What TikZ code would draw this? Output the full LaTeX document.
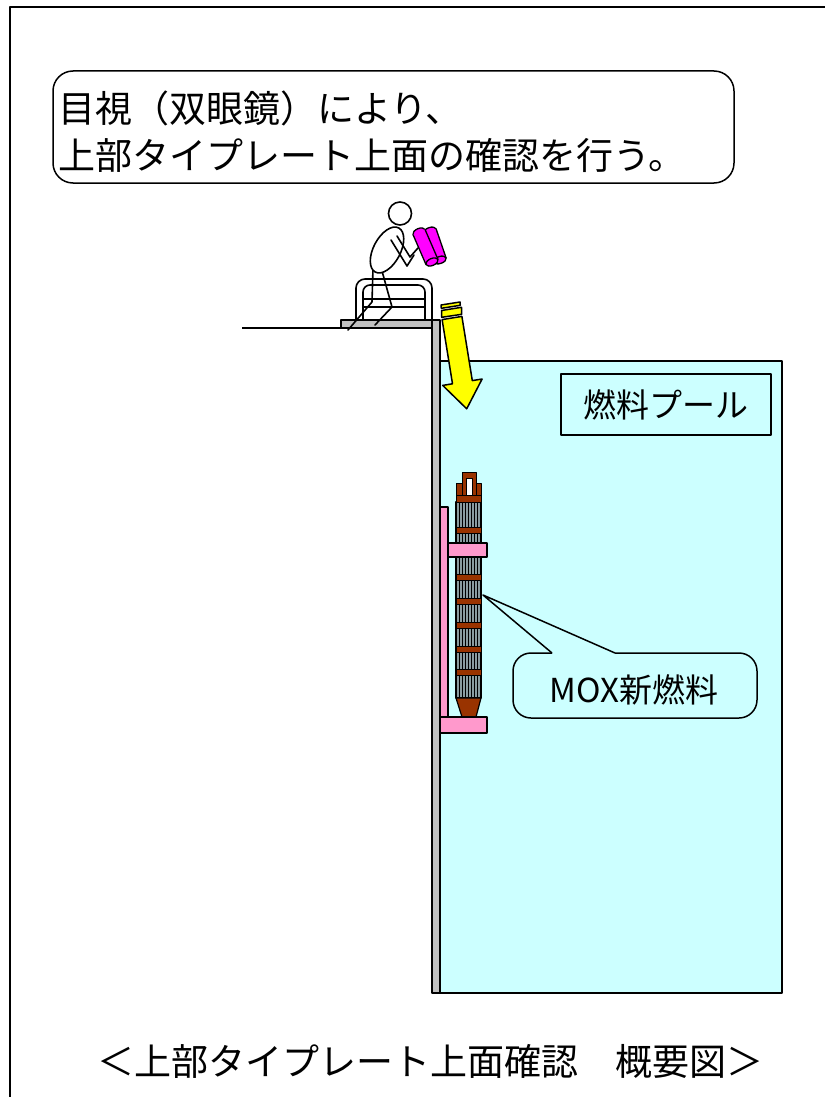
\documentclass[tikz,border=0pt]{standalone}
\usepackage{fontspec}
\newfontfamily\jp{Noto Sans CJK JP}
\definecolor{poolcyan}{HTML}{CCFFFF}
\definecolor{wallgray}{HTML}{C0C0C0}
\definecolor{rust}{HTML}{993300}
\definecolor{rackpink}{HTML}{FF99CC}
\definecolor{rodgray}{HTML}{8A9CA0}
\definecolor{scopemag}{HTML}{FF00FF}
\definecolor{arrowyellow}{HTML}{FFFF00}
\begin{document}
\begin{tikzpicture}[x=1pt,y=-1pt,line join=round,
  outline/.style={draw=black,line width=1.5pt},
  thinline/.style={draw=black,line width=0.9pt},
  figure/.style={draw=black,line width=1.6pt,line cap=round},
  barrel/.style={draw=black,line width=1.3pt,fill=scopemag},
  bigtext/.style={font=\jp\fontsize{37}{37}\selectfont,inner sep=0pt},
  midtext/.style={font=\jp\fontsize{33}{33}\selectfont,inner sep=0pt}]
\useasboundingbox (0,0) rectangle (825,1097);

% page frame
\draw[line width=2pt] (10,1097) -- (10,7) -- (825,7);

% explanation box
\draw[outline,rounded corners=20pt] (53,71) rectangle (734,183);
\node[bigtext,anchor=base west] (noteA) at (58,123) {目視（双眼鏡）により、};
\node[bigtext,anchor=base west] (noteB) at (58,169) {上部タイプレート上面の確認を行う。};

% pool water and wall
\draw[outline,fill=poolcyan] (440,361) rectangle (782,993);
\draw[outline,fill=wallgray] (432,320) rectangle (440,993);
\draw[outline,fill=wallgray] (341,320) rectangle (432,328);
\draw[line width=1.5pt] (242,328) -- (341,328);

\node[midtext,draw=black,line width=1.5pt,minimum width=210pt,minimum height=61pt] (pooltag) at (666,404.5) {燃料プール};

% handrail
\draw[figure,rounded corners=9pt] (356,320) -- (356,279) -- (432,279) -- (432,320);
\draw[figure,rounded corners=7pt] (363,320) -- (363,285) -- (425,285) -- (425,320);
\draw[figure] (363,299) -- (425,299);
\draw[figure] (363,307) -- (425,307);

% observer
\draw[figure] (373,268) -- (372,302) -- (348,330);
\draw[figure] (382,271) -- (392,307) -- (375,325);
\draw[figure,fill=white] (387,250) ellipse [x radius=25, y radius=13.5, rotate=62];
\draw[figure,fill=white] (400,213.5) circle [radius=11.5];
\draw[figure] (391,240) -- (407,266) -- (414,255);
\draw[figure] (397,236) -- (410,257) -- (418,248);

% binoculars, far barrel
\draw[barrel] (430,231) ellipse [x radius=6.5, y radius=3.5, rotate=19];
\fill[scopemag] (436.1,228.9) -- (446.1,257.9) -- (433.9,262.1) -- (423.9,233.1) -- cycle;
\draw[black,line width=1.3pt] (436.1,228.9) -- (446.1,257.9);
\draw[black,line width=1.3pt] (433.9,262.1) -- (423.9,233.1);
\draw[barrel] (440,260) ellipse [x radius=6.5, y radius=3.5, rotate=19];
% binoculars, near barrel
\draw[barrel] (419,232) ellipse [x radius=6.5, y radius=3.5, rotate=23.5];
\fill[scopemag] (425,229.4) -- (438,259.4) -- (426,264.6) -- (413,234.6) -- cycle;
\draw[black,line width=1.3pt] (425,229.4) -- (438,259.4);
\draw[black,line width=1.3pt] (426,264.6) -- (413,234.6);
\draw[barrel] (432,262) ellipse [x radius=6.5, y radius=3.5, rotate=23.5];

% line of sight arrow
\draw[outline,fill=arrowyellow] (441,305) -- (460,302) -- (460.3,305.3) -- (441.3,308.3) -- cycle;
\draw[outline,fill=arrowyellow] (441.5,310.5) -- (461.5,307.3) -- (461.7,314.3) -- (441.7,317.3) -- cycle;
\draw[outline,fill=arrowyellow] (461.9,316.4) -- (472.3,380.6) -- (482.1,379.0) -- (466.7,408.8)
  -- (442.7,385.4) -- (452.5,383.8) -- (442.1,319.6) -- cycle;

% storage rack
\draw[thinline,line width=1.2pt,fill=rackpink] (440,507) rectangle (448,717);

% fuel assembly
\draw[thinline,line width=1.2pt,fill=rodgray] (456,502) rectangle (481,698);
\foreach \k in {1,...,7} {
  \draw[black,line width=0.8pt] ({456+\k*3.125},502) -- ({456+\k*3.125},698);
}
\foreach \yb in {527,550,574,598,622,646,669} {
  \draw[thinline,fill=rust] (456,\yb) rectangle (481,\yb+6);
}
\draw[thinline,fill=rust] (456,495) rectangle (481,502);
\draw[thinline,fill=rust] (456,483) rectangle (462,495);
\draw[thinline,fill=rust] (476,483) rectangle (481,495);
\draw[thinline,fill=rust] (462,472) rectangle (476,495);
\draw[thinline,fill=white] (466,478) rectangle (472,495);
\draw[thinline,line width=1.2pt,fill=rust] (456,698) -- (481,698) -- (476,717) -- (462,717) -- cycle;

% rack plates
\draw[thinline,line width=1.2pt,fill=rackpink] (448,543) rectangle (487,557);
\draw[thinline,line width=1.2pt,fill=rackpink] (440,717) rectangle (487,733);

% label callout
\draw[outline,fill=poolcyan,rounded corners=18pt] (513,653) rectangle (757,718);
\fill[poolcyan] (553,655) -- (552,653) -- (483,595) -- (615,653) -- (614,655) -- cycle;
\draw[line width=1.5pt] (552,653) -- (483,595) -- (615,653);
\node[midtext] (moxtag) at (634,690) {MOX新燃料};

% caption
\node[bigtext,anchor=base] (caption) at (430,1075) {＜上部タイプレート上面確認　概要図＞};
\end{tikzpicture}
\end{document}
